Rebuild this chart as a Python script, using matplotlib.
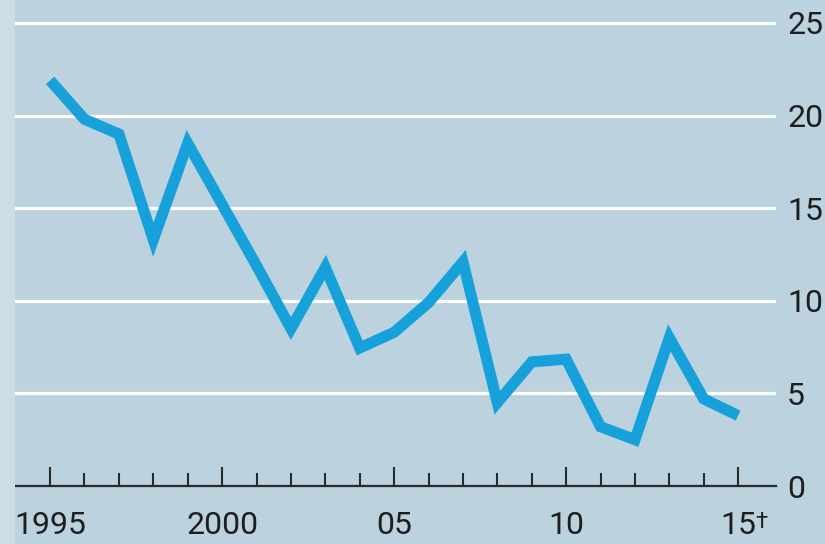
import numpy as np
import matplotlib.pyplot as plt
from matplotlib.patches import Rectangle

# dados
anos = list(range(1995, 2016))
valores = [21.9, 19.8, 19.0, 13.3, 18.5, 15.2, 11.9, 8.5, 11.8, 7.45,
           8.3, 9.9, 12.1, 4.5, 6.7, 6.85, 3.2, 2.5, 8.0, 4.7, 3.8]
y_ticks = [0, 5, 10, 15, 20, 25]
x_major = [1995, 2000, 2005, 2010, 2015]
x_labels = ['1995', '2000', '05', '10', '15']

fundo = '#bcd2de'
azul = '#17a1da'
texto = '#1e1e1e'

plt.rcParams['font.family'] = ['Roboto', 'DejaVu Sans']

fig = plt.figure(figsize=(8.25, 5.44), dpi=100, facecolor=fundo)
fig.patches.append(Rectangle((0, 0), 15 / 825, 1, transform=fig.transFigure,
                             facecolor='#cddde6', edgecolor='none', zorder=0))
ax = fig.add_axes([15 / 825, 58 / 544, 761 / 825, 486 / 544])
ax.set_facecolor(fundo)

for v in y_ticks[1:]:
    ax.axhline(v, color='white', lw=2.3, zorder=1)

ax.plot(anos, valores, color=azul, lw=8, solid_joinstyle='miter',
        solid_capstyle='butt', zorder=3)

ax.set_xlim(1993.98, 2016.1)
ax.set_ylim(0, 26.24)

for s in ['top', 'left', 'right']:
    ax.spines[s].set_visible(False)
ax.spines['bottom'].set_color('#2a2a2a')
ax.spines['bottom'].set_linewidth(1.6)

ax.yaxis.tick_right()
ax.set_yticks(y_ticks)
ax.set_yticklabels([str(v) for v in y_ticks])
ax.tick_params(axis='y', length=0, pad=8, labelsize=23, labelcolor=texto)

ax.set_xticks(x_major)
ax.set_xticklabels(x_labels)
ax.set_xticks(anos, minor=True)
ax.tick_params(axis='x', which='major', direction='in', length=14, width=1.5,
               color='#2a2a2a', pad=18, labelsize=23, labelcolor=texto)
ax.tick_params(axis='x', which='minor', direction='in', length=9.5, width=1.5,
               color='#2a2a2a')

# simbolo de nota no ultimo ano
ax.annotate('\u2020', xy=(2015, 0), xycoords='data', xytext=(12, -18.5),
            textcoords='offset points', fontsize=16, color=texto,
            ha='left', va='top')

fig.savefig('out.png', dpi=100, facecolor=fundo)
